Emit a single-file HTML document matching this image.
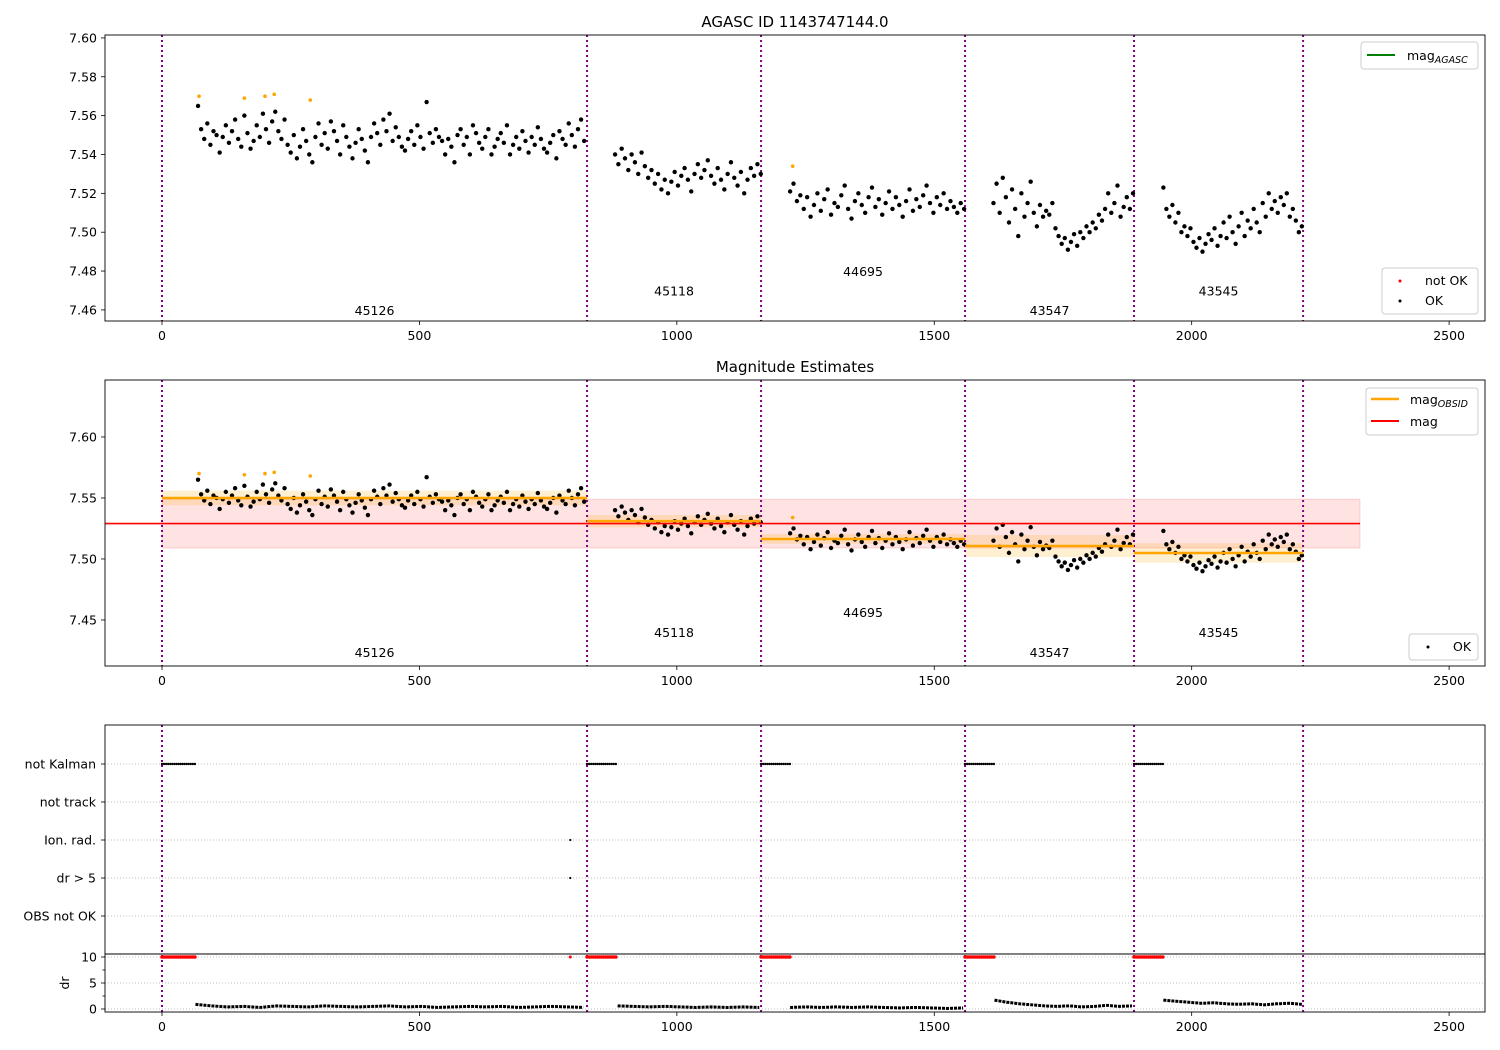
<!DOCTYPE html>
<html><head><meta charset="utf-8">
<style>
html,body{margin:0;padding:0;background:#fff;}
svg{display:block;font-family:"DejaVu Sans","Liberation Sans",sans-serif;}
</style></head>
<body>
<svg id="chart" width="1500" height="1050" viewBox="0 0 1500 1050" xmlns="http://www.w3.org/2000/svg"></svg>
<script>
// ---- data ----
const obsids = ["45126","45118","44695","43547","43545"];
const obsStarts = [0, 825.6, 1163.6, 1559.8, 1888];
const obsEnds = [825.6, 1163.6, 1559.8, 1888, 2216.4];
const dataStarts = [70, 880, 1220, 1615, 1945];
const dataEnds = [820, 1163, 1558, 1886, 2214];
const obsMeans = [7.550, 7.531, 7.5164, 7.5106, 7.5049];
const obsErr = [0.006, 0.005, 0.004, 0.009, 0.008];
const magMean = 7.529;
const magErr = 0.020;
const magSeg1 = [7.565,7.553,7.548,7.556,7.545,7.552,7.550,7.541,7.549,7.555,7.546,7.552,7.558,7.548,7.544,7.560,7.551,7.543,7.547,7.555,7.549,7.561,7.553,7.546,7.557,7.562,7.552,7.548,7.558,7.545,7.541,7.550,7.538,7.544,7.553,7.547,7.540,7.536,7.549,7.556,7.545,7.551,7.543,7.557,7.552,7.547,7.540,7.555,7.549,7.544,7.538,7.546,7.553,7.548,7.542,7.536,7.549,7.556,7.551,7.545,7.558,7.552,7.561,7.547,7.554,7.549,7.544,7.542,7.548,7.552,7.545,7.555,7.549,7.543,7.567,7.551,7.546,7.553,7.549,7.547,7.540,7.548,7.544,7.536,7.550,7.553,7.545,7.549,7.540,7.555,7.551,7.546,7.543,7.549,7.553,7.540,7.544,7.548,7.551,7.546,7.555,7.540,7.545,7.549,7.543,7.552,7.547,7.541,7.549,7.545,7.554,7.548,7.543,7.541,7.546,7.550,7.538,7.552,7.548,7.545,7.556,7.550,7.544,7.553,7.558,7.547];
const magSeg2 = [7.540,7.535,7.543,7.538,7.532,7.540,7.536,7.530,7.541,7.534,7.528,7.532,7.525,7.530,7.522,7.527,7.520,7.526,7.531,7.524,7.529,7.533,7.527,7.521,7.530,7.535,7.528,7.532,7.537,7.529,7.525,7.533,7.527,7.522,7.530,7.536,7.528,7.524,7.531,7.520,7.527,7.533,7.529,7.535,7.530];
const magSeg3 = [7.521,7.525,7.516,7.519,7.512,7.518,7.508,7.514,7.520,7.511,7.517,7.522,7.509,7.515,7.513,7.519,7.524,7.512,7.507,7.516,7.520,7.514,7.510,7.518,7.523,7.513,7.517,7.509,7.515,7.521,7.512,7.518,7.514,7.508,7.516,7.522,7.511,7.517,7.513,7.519,7.524,7.515,7.510,7.518,7.514,7.520,7.512,7.516,7.513,7.510,7.515,7.512];
const magSeg4 = [7.515,7.525,7.510,7.528,7.518,7.505,7.522,7.512,7.498,7.520,7.508,7.515,7.526,7.510,7.503,7.514,7.508,7.511,7.509,7.515,7.502,7.498,7.494,7.497,7.491,7.495,7.499,7.493,7.500,7.497,7.503,7.500,7.505,7.502,7.509,7.506,7.512,7.520,7.510,7.515,7.524,7.508,7.513,7.518,7.512,7.520];
const magSeg5 = [7.523,7.512,7.508,7.514,7.505,7.510,7.500,7.503,7.498,7.502,7.495,7.492,7.497,7.490,7.494,7.499,7.496,7.502,7.493,7.498,7.505,7.497,7.508,7.500,7.494,7.503,7.510,7.498,7.506,7.502,7.512,7.505,7.500,7.515,7.508,7.520,7.512,7.516,7.510,7.518,7.514,7.520,7.508,7.512,7.506,7.500,7.503];
const outlierT = [72,160,200,218,288,1225];
const outlierMag = [7.570,7.569,7.570,7.571,7.568,7.534];
const drSeg1 = [0.9,0.6,0.4,0.5,0.3,0.6,0.5,0.4,0.6,0.5,0.4,0.5,0.6,0.4,0.5,0.3,0.4,0.5,0.4,0.5,0.3,0.4,0.5,0.4,0.3];
const drSeg2 = [0.6,0.5,0.4,0.5,0.4,0.3,0.4,0.3,0.4,0.3];
const drSeg3 = [0.3,0.4,0.3,0.4,0.3,0.4,0.3,0.2,0.3,0.2,0.1,0.2];
const drSeg4 = [1.7,1.3,1.0,0.8,0.6,0.5,0.6,0.4,0.5,0.7,0.5,0.6];
const drSeg5 = [1.7,1.5,1.3,1.1,1.2,1.0,0.9,1.0,0.8,1.0,1.1,0.9];
const notKalmanEnd = [65, 885, 1220, 1617, 1945];
const flagCats = ["not Kalman","not track","Ion. rad.","dr > 5","OBS not OK"];
const singleFlagT = 793;
const xTicks = [0,500,1000,1500,2000,2500];
const y1Ticks = [7.46,7.48,7.50,7.52,7.54,7.56,7.58,7.60];
const y2Ticks = [7.45,7.50,7.55,7.60];
const drTicks = [0,5,10];
const drMinor = [2.5,7.5];
const labelMag1 = [7.46,7.47,7.48,7.46,7.47];
const labelMag2 = [7.4237,7.44,7.4565,7.4237,7.44];

// ---- helpers ----
const svg = document.getElementById('chart');
const NS = "http://www.w3.org/2000/svg";
function mk(tag, attrs, parent){ const e=document.createElementNS(NS,tag); for(const k in attrs) e.setAttribute(k,attrs[k]); (parent||svg).appendChild(e); return e; }
const L=105, R=1485;
const FS=12.5;
const X = t => 162 + t*0.51484;
const Y1 = m => 35 + (7.6015 - m)*(286/0.1472);
const Y2 = m => 380 + (7.6467 - m)*1220;
const YDR = d => 1009 - d*5.2;
const catY = [764,802,840,878,916];
const segs = [magSeg1,magSeg2,magSeg3,magSeg4,magSeg5];
const drs = [drSeg1,drSeg2,drSeg3,drSeg4,drSeg5];
const tAt = (s,i,n,a,b) => a[s] + (n>1 ? i*(b[s]-a[s])/(n-1) : 0);

function xAxis(top,bottom,name){
  const g = mk('g',{});
  
  
  xTicks.forEach(t=>{
    mk('line',{x1:X(t),x2:X(t),y1:bottom,y2:bottom+4,stroke:'#000','stroke-width':0.8},g);
    const tx = mk('text',{x:X(t),y:bottom+19,'font-size':FS,'text-anchor':'middle'},g);
    tx.textContent = t;
  });
}
function frame(top,bottom,name){
  const r = mk('rect',{x:L,y:top,width:R-L,height:bottom-top,fill:'none',stroke:'#000','stroke-width':0.9});
  
  
}
function vlines(top,bottom){
  obsStarts.concat([obsEnds[obsEnds.length-1]]).forEach(t=>{
    const l = mk('line',{x1:X(t),x2:X(t),y1:top,y2:bottom,stroke:'#800080','stroke-width':2,'stroke-dasharray':'2,3'});
    
    
  });
}
function yTicks(ticks,fn,fmt,name){
  const g = mk('g',{});
  
  
  ticks.forEach(v=>{
    const y=fn(v);
    mk('line',{x1:L-4,x2:L,y1:y,y2:y,stroke:'#000','stroke-width':0.8},g);
    const tx=mk('text',{x:L-8,y:y+4.5,'font-size':FS,'text-anchor':'end'},g);
    tx.textContent = fmt(v);
  });
}
function dots(fn,yfn){
  const g = mk('g',{});
  
  
  segs.forEach((arr,s)=>{
    arr.forEach((m,i)=>{
      const t=tAt(s,i,arr.length,dataStarts,dataEnds);
      const c=mk('circle',{cx:X(t),cy:yfn(m),r:2.2,fill:'#000'},g);
      
      
    });
  });
  outlierT.forEach((t,i)=>{
    const c=mk('circle',{cx:X(t),cy:yfn(outlierMag[i]),r:1.8,fill:'orange'},g);
    
    
  });
}
function obsLabels(vals,yfn){
  obsids.forEach((o,i)=>{
    const tx=mk('text',{x:X((obsStarts[i]+obsEnds[i])/2),y:yfn(vals[i])+5,'font-size':FS,'text-anchor':'middle'});
    tx.textContent=o;
    
    
  });
}
function title(txt,y,name){
  const t=mk('text',{x:795,y:y,'font-size':15,'text-anchor':'middle'});
  t.textContent=txt;
  
  
}

// ---- panel 1 ----
title('AGASC ID 1143747144.0',27,'title-agasc');
vlines(35,321);
dots(X,Y1);
obsLabels(labelMag1,Y1);
frame(35,321,'panel-1-axes');
yTicks(y1Ticks,Y1,v=>v.toFixed(2),'panel-1-y-axis');
xAxis(35,321,'panel-1-x-axis');
(function(){
  const g=mk('g',{});
  
  
  mk('rect',{x:1361,y:42,width:117,height:27,rx:3,fill:'#fff',stroke:'#ccc'},g);
  mk('line',{x1:1367,x2:1395,y1:55,y2:55,stroke:'green','stroke-width':2},g);
  const t=mk('text',{x:1407,y:60,'font-size':FS},g); t.innerHTML='mag<tspan font-size="9.5" font-style="italic" dy="3">AGASC</tspan>';
  const g2=mk('g',{});
  
  
  mk('rect',{x:1382,y:268,width:96,height:46,rx:3,fill:'#fff',stroke:'#ccc'},g2);
  mk('circle',{cx:1400,cy:281,r:1.5,fill:'red'},g2);
  const a=mk('text',{x:1425,y:285,'font-size':FS},g2); a.textContent='not OK';
  mk('circle',{cx:1400,cy:301,r:1.5,fill:'#000'},g2);
  const b=mk('text',{x:1425,y:305,'font-size':FS},g2); b.textContent='OK';
})();

// ---- panel 2 ----
title('Magnitude Estimates',372,'title-magnitude-estimates');
(function(){
  const band=mk('rect',{x:X(0),y:Y2(magMean+magErr),width:1360-X(0),height:Y2(magMean-magErr)-Y2(magMean+magErr),fill:'rgba(255,0,0,0.11)',stroke:'rgba(255,0,0,0.15)'});
  
  
  obsMeans.forEach((m,i)=>{
    const r=mk('rect',{x:X(obsStarts[i]),y:Y2(m+obsErr[i]),width:X(obsEnds[i])-X(obsStarts[i]),height:Y2(m-obsErr[i])-Y2(m+obsErr[i]),fill:'rgba(255,165,0,0.18)'});
    
    
  });
})();
vlines(380,666);
dots(X,Y2);
obsMeans.forEach((m,i)=>{
  const l=mk('line',{x1:X(obsStarts[i]),x2:X(obsEnds[i]),y1:Y2(m),y2:Y2(m),stroke:'orange','stroke-width':2.5});
  
  
});
(function(){
  const l=mk('line',{x1:L,x2:1360,y1:Y2(magMean),y2:Y2(magMean),stroke:'red','stroke-width':1.6});
  
  
})();
obsLabels(labelMag2,Y2);
frame(380,666,'panel-2-axes');
yTicks(y2Ticks,Y2,v=>v.toFixed(2),'panel-2-y-axis');
xAxis(380,666,'panel-2-x-axis');
(function(){
  const g=mk('g',{});
  
  
  mk('rect',{x:1366,y:388,width:112,height:47,rx:3,fill:'#fff',stroke:'#ccc'},g);
  mk('line',{x1:1371,x2:1399,y1:399,y2:399,stroke:'orange','stroke-width':2.5},g);
  const t=mk('text',{x:1410,y:404,'font-size':FS},g); t.innerHTML='mag<tspan font-size="9.5" font-style="italic" dy="3">OBSID</tspan>';
  mk('line',{x1:1371,x2:1399,y1:421,y2:421,stroke:'red','stroke-width':2},g);
  const t2=mk('text',{x:1410,y:426,'font-size':FS},g); t2.textContent='mag';
  const g2=mk('g',{});
  
  
  mk('rect',{x:1409,y:634,width:69,height:26,rx:3,fill:'#fff',stroke:'#ccc'},g2);
  mk('circle',{cx:1428,cy:647,r:1.5,fill:'#000'},g2);
  const b=mk('text',{x:1453,y:651,'font-size':FS},g2); b.textContent='OK';
})();

// ---- panel 3 ----
catY.forEach(y=>mk('line',{x1:L,x2:R,y1:y,y2:y,stroke:'#aaa','stroke-width':0.8,'stroke-dasharray':'1,2'}));
drTicks.forEach(d=>mk('line',{x1:L,x2:R,y1:YDR(d),y2:YDR(d),stroke:'#aaa','stroke-width':0.8,'stroke-dasharray':'1,2'}));
vlines(725,1012);
(function(){
  const g=mk('g',{});
  
  
  obsStarts.forEach((s,i)=>{
    for(let t=s;t<=notKalmanEnd[i];t+=4){
      mk('circle',{cx:X(t),cy:catY[0],r:1.2,fill:'#000'},g);
      mk('circle',{cx:X(t),cy:YDR(10),r:1.8,fill:'red'},g);
    }
  });
  mk('circle',{cx:X(singleFlagT),cy:catY[2],r:1.1,fill:'#000'},g);
  mk('circle',{cx:X(singleFlagT),cy:catY[3],r:1.1,fill:'#000'},g);
  mk('circle',{cx:X(singleFlagT),cy:YDR(10),r:1.5,fill:'red'},g);
  const g2=mk('g',{});
  
  
  const drEndT=[818,1160,1556,1884,2214];
  drs.forEach((arr,s)=>{
    const a=notKalmanEnd[s];
    const pts=arr.map((d,i)=>[X(a+i*(drEndT[s]-a)/(arr.length-1)),YDR(d)]);
    mk('polyline',{points:pts.map(p=>p.join(',')).join(' '),fill:'none',stroke:'#000','stroke-width':3,'stroke-linejoin':'round','stroke-dasharray':'3,1'},g2);
  });
})();
mk('line',{x1:L,x2:R,y1:954,y2:954,stroke:'#000','stroke-width':1});
frame(725,1012,'panel-3-axes');
(function(){
  const g=mk('g',{});
  
  
  flagCats.forEach((c,i)=>{
    mk('line',{x1:L-4,x2:L,y1:catY[i],y2:catY[i],stroke:'#000','stroke-width':0.8},g);
    const t=mk('text',{x:L-9,y:catY[i]+4.5,'font-size':FS,'text-anchor':'end'},g); t.textContent=c;
  });
})();
yTicks(drTicks,YDR,v=>v,'dr-y-axis');
drMinor.forEach(d=>mk('line',{x1:L-2.5,x2:L,y1:YDR(d),y2:YDR(d),stroke:'#000','stroke-width':0.8}));
(function(){
  const t=mk('text',{x:69,y:983,'font-size':FS,'text-anchor':'middle',transform:'rotate(-90 69 983)'});
  t.textContent='dr';
  
  
})();
xAxis(725,1012,'panel-3-x-axis');
</script>
</body></html>
